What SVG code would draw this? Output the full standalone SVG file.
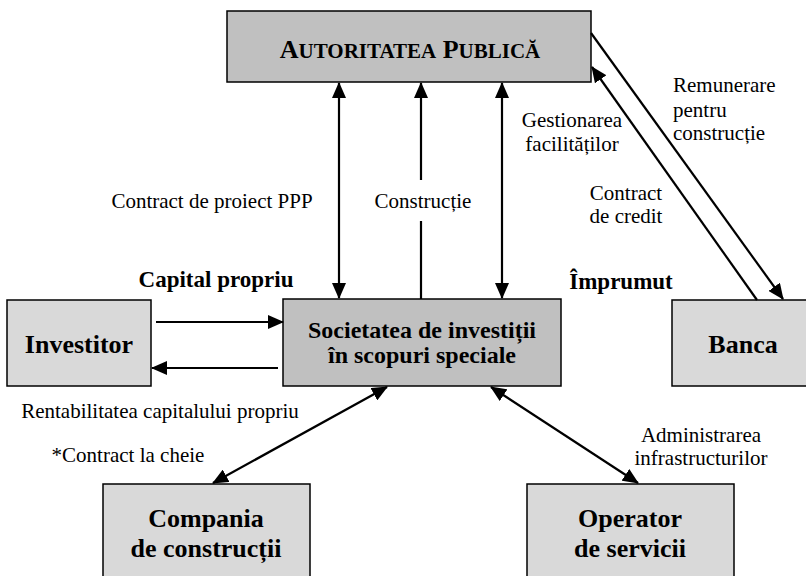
<svg xmlns="http://www.w3.org/2000/svg" width="806" height="576" viewBox="0 0 806 576">
<style>
.box{stroke:#000;stroke-width:1.5}
.dark{fill:#c0c0c0}
.light{fill:#d9d9d9}
.t{font-family:"Liberation Serif","Times New Roman",serif;fill:#000}
.lbl{font-size:21px}
.b{font-weight:bold}
.nt{font-size:26px;font-weight:bold;text-anchor:middle}
.c{text-anchor:middle}
.ln{stroke:#000;stroke-width:2.2;fill:none}
</style>
<defs>
<marker id="ah" markerUnits="userSpaceOnUse" markerWidth="16" markerHeight="14" refX="15" refY="7" orient="auto-start-reverse">
<path d="M0,0 L16,7 L0,14 Z" fill="#000"/>
</marker>
</defs>
<rect width="806" height="576" fill="#fff"/>

<g id="autoritatea">
<rect class="box dark" x="227" y="11" width="364" height="71"/>
<text class="t b c" x="410" y="58"><tspan font-size="26">A</tspan><tspan font-size="21">UTORITATEA</tspan><tspan font-size="26"> P</tspan><tspan font-size="21">UBLICĂ</tspan></text>
</g>

<g id="investitor">
<rect class="box light" x="7" y="300" width="144" height="86"/>
<text class="t nt" x="79" y="353">Investitor</text>
</g>

<g id="spv">
<rect class="box dark" x="283" y="299" width="278" height="87"/>
<text class="t b c" font-size="24" x="422" y="338">Societatea de investiții</text>
<text class="t b c" font-size="24" x="422" y="363">în scopuri speciale</text>
</g>

<g id="banca">
<rect class="box light" x="672" y="300" width="140" height="86"/>
<text class="t nt" x="743" y="353">Banca</text>
</g>

<g id="compania">
<rect class="box light" x="103" y="484" width="207" height="100"/>
<text class="t nt" x="206" y="527">Compania</text>
<text class="t nt" x="206" y="557">de construcții</text>
</g>

<g id="operator">
<rect class="box light" x="527" y="484" width="207" height="100"/>
<text class="t nt" x="630" y="527">Operator</text>
<text class="t nt" x="630" y="557">de servicii</text>
</g>

<g id="connectors">
<line class="ln" x1="339" y1="298" x2="339" y2="83" marker-start="url(#ah)" marker-end="url(#ah)"/>
<line class="ln" x1="502" y1="298" x2="502" y2="83" marker-start="url(#ah)" marker-end="url(#ah)"/>
<path class="ln" d="M421,299 V221 M421,180 V83" marker-end="url(#ah)"/>
<line class="ln" x1="156" y1="322" x2="283" y2="322" marker-end="url(#ah)"/>
<line class="ln" x1="278" y1="368" x2="152" y2="368" marker-end="url(#ah)"/>
<line class="ln" x1="591" y1="33" x2="783" y2="299" marker-end="url(#ah)"/>
<line class="ln" x1="757" y1="300" x2="592" y2="67" marker-end="url(#ah)"/>
<line class="ln" x1="387" y1="387" x2="213" y2="483" marker-start="url(#ah)" marker-end="url(#ah)"/>
<line class="ln" x1="491" y1="387" x2="638" y2="483" marker-start="url(#ah)" marker-end="url(#ah)"/>
</g>

<g id="labels">
<text class="t lbl c" x="212" y="208">Contract de proiect PPP</text>
<text class="t lbl c" x="423" y="208">Construcție</text>
<text class="t lbl c" x="572" y="127">Gestionarea</text>
<text class="t lbl c" x="572" y="151">facilităților</text>
<text class="t lbl c" x="626" y="200">Contract</text>
<text class="t lbl c" x="626" y="223">de credit</text>
<text class="t lbl" x="673" y="92">Remunerare</text>
<text class="t lbl" x="673" y="117">pentru</text>
<text class="t lbl" x="673" y="140">construcție</text>
<text class="t b c" font-size="23" x="216" y="287">Capital propriu</text>
<text class="t b c" font-size="23" x="621" y="289">Împrumut</text>
<text class="t lbl c" x="160" y="418">Rentabilitatea capitalului propriu</text>
<text class="t lbl c" x="128" y="462">*Contract la cheie</text>
<text class="t lbl c" x="701" y="442">Administrarea</text>
<text class="t lbl c" x="701" y="465">infrastructurilor</text>
</g>
</svg>
